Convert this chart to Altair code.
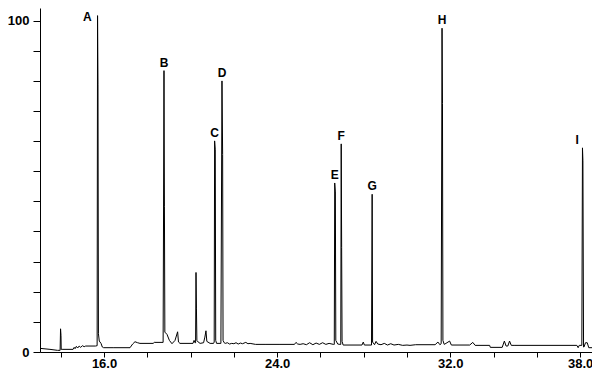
import altair as alt
import pandas as pd

# Chromatogram trace (retention time, relative abundance)
times = [
    13.04, 13.50, 13.85, 13.97, 13.99, 14.01, 14.02, 14.06, 14.57, 14.62,
    14.66, 14.72, 14.78, 14.85, 14.92, 15.00, 15.08, 15.15, 15.60, 15.68,
    15.70, 15.72, 15.74, 15.78, 15.86, 15.92, 15.98, 16.42, 17.20, 17.32,
    17.43, 17.55, 17.66, 18.27, 18.32, 18.73, 18.77, 18.79, 18.81, 18.91,
    19.02, 19.14, 19.28, 19.40, 19.44, 19.51, 20.11, 20.16, 20.20, 20.23,
    20.25, 20.27, 20.29, 20.35, 20.44, 20.60, 20.66, 20.71, 20.75, 20.90,
    21.06, 21.09, 21.11, 21.14, 21.16, 21.20, 21.40, 21.45, 21.48, 21.50,
    21.55, 21.60, 21.70, 21.80, 21.90, 22.00, 22.10, 22.20, 22.30, 22.40,
    22.55, 22.65, 22.75, 23.00, 23.44, 24.13, 24.80, 24.87, 24.95, 25.06,
    25.20, 25.35, 25.50, 25.65, 25.80, 25.95, 26.10, 26.25, 26.40, 26.60,
    26.64, 26.66, 26.69, 26.71, 26.80, 26.90, 26.94, 26.96, 26.98, 27.00,
    27.05, 27.92, 27.98, 28.03, 28.36, 28.39, 28.41, 28.50, 28.57, 28.65,
    28.80, 28.95, 29.10, 29.25, 29.40, 29.60, 29.80, 30.00, 30.14, 30.40,
    31.30, 31.43, 31.52, 31.58, 31.62, 31.64, 31.66, 31.72, 31.80, 31.97,
    32.05, 32.90, 33.04, 33.15, 33.82, 33.85, 34.40, 34.50, 34.58, 34.66,
    34.74, 34.82, 34.99, 37.85, 37.91, 37.96, 38.08, 38.11, 38.13, 38.16,
    38.18, 38.25, 38.33, 38.40, 38.55,
]
abundance = [
    1.1, 0.8, 0.5, 0.5, 7.0, 5.0, 0.8, 0.8, 0.8, 1.4,
    1.0, 1.7, 1.2, 1.8, 1.4, 1.9, 1.6, 1.8, 1.8, 1.9,
    101.5, 80.6, 5.5, 3.3, 2.6, 1.5, 1.3, 1.3, 1.3, 2.4,
    3.1, 2.8, 2.6, 2.6, 2.9, 2.9, 84.9, 43.8, 6.0, 5.3,
    3.5, 2.5, 3.5, 6.1, 3.0, 2.6, 2.6, 3.5, 2.8, 2.8,
    24.0, 13.0, 3.5, 3.0, 2.6, 2.8, 4.5, 6.4, 3.2, 2.6,
    2.6, 3.0, 63.7, 61.0, 3.5, 2.6, 2.6, 81.8, 59.6, 3.5,
    2.8, 2.6, 2.8, 2.4, 2.6, 2.5, 2.8, 2.4, 2.7, 2.5,
    2.9, 2.5, 2.6, 2.3, 2.3, 2.3, 2.3, 2.9, 2.4, 2.3,
    2.5, 2.2, 2.8, 2.2, 2.7, 2.3, 2.8, 2.3, 2.6, 2.3,
    2.3, 51.0, 48.3, 3.5, 2.4, 2.3, 2.3, 62.8, 31.5, 3.2,
    2.1, 2.1, 3.0, 2.1, 2.1, 47.6, 3.0, 2.2, 3.2, 2.4,
    2.2, 2.6, 2.1, 2.5, 2.1, 2.3, 2.0, 2.1, 2.0, 2.2,
    2.2, 3.0, 2.2, 2.5, 97.7, 75.0, 3.5, 2.3, 2.6, 3.3,
    2.1, 2.1, 2.9, 2.0, 2.0, 1.4, 1.4, 3.3, 1.8, 1.8,
    3.3, 2.0, 2.0, 2.0, 1.3, 2.0, 2.0, 61.6, 57.8, 1.5,
    1.5, 2.8, 2.8, 1.3, 1.3,
]

# Peak annotations
peak_labels = ["A", "B", "C", "D", "E", "F", "G", "H", "I"]
peak_times = [15.70, 18.77, 21.11, 21.45, 26.66, 26.96, 28.39, 31.62, 38.13]
peak_heights = [101.5, 84.9, 63.7, 81.8, 51.0, 62.8, 47.6, 97.7, 61.6]

# Axis ticks
x_tick_values = [14, 16, 18, 20, 22, 24, 26, 28, 30, 32, 34, 36, 38]
x_tick_labels = [16, 24, 32, 38]
y_tick_values = [0, 9.091, 18.182, 27.273, 36.364, 45.455, 54.545,
                 63.636, 72.727, 81.818, 90.909, 100]
y_tick_labels = [0, 100]

trace = pd.DataFrame({"time": times, "abundance": abundance})
peaks = pd.DataFrame({"label": peak_labels, "time": peak_times,
                      "abundance": peak_heights})

FONT = "Liberation Sans"

x_scale = alt.Scale(domain=[13.04, 38.55], nice=False, zero=False)
y_scale = alt.Scale(domain=[0, 103.8], nice=False, zero=False)

x_axis = alt.Axis(
    values=x_tick_values,
    labelExpr="indexof(" + str(x_tick_labels) + ", datum.value) >= 0 ? format(datum.value, '.1f') : ''",
    title=None, grid=False, ticks=True, tickSize=5, labelPadding=0,
    labelFont=FONT, labelFontWeight="bold", labelFontSize=13,
    labelColor="black", domainColor="black", tickColor="black",
    tickWidth=1, domainWidth=1,
    labelFlush=False, labelOverlap=False,
)
y_axis = alt.Axis(
    values=y_tick_values,
    labelExpr="indexof(" + str(y_tick_labels) + ", datum.value) >= 0 ? datum.label : ''",
    title=None, grid=False, ticks=True, tickSize=7, labelPadding=4,
    labelFont=FONT, labelFontWeight="bold", labelFontSize=13,
    labelColor="black", domainColor="black", tickColor="black",
    tickWidth=1, domainWidth=1,
    labelFlush=False, labelOverlap=False,
)

xe = alt.X("time:Q", scale=x_scale, axis=x_axis)
ye = alt.Y("abundance:Q", scale=y_scale, axis=y_axis)

line = alt.Chart(trace).mark_line(color="black", strokeWidth=1, clip=True).encode(
    x=xe, y=ye, order="time:Q",
)

text_style = dict(font=FONT, fontWeight="bold", fontSize=12, color="black")

above = alt.Chart(peaks).transform_filter(
    "datum.label != 'A' && datum.label != 'I'"
).mark_text(align="center", baseline="alphabetic", dy=-4, **text_style).encode(
    x=xe, y=ye, text="label:N"
)
left_a = alt.Chart(peaks).transform_filter("datum.label == 'A'").mark_text(
    align="right", baseline="middle", dx=-6, dy=1, **text_style
).encode(x=xe, y=ye, text="label:N")
left_i = alt.Chart(peaks).transform_filter("datum.label == 'I'").mark_text(
    align="right", baseline="middle", dx=-4, dy=-8, **text_style
).encode(x=xe, y=ye, text="label:N")

chart = alt.layer(line, above, left_a, left_i).properties(
    width=552, height=344,
    padding={"left": 32, "top": 0, "right": 0, "bottom": 18},
    autosize="none", background="white",
).configure_view(stroke=None)

chart.save("out.html", embed_options={"renderer": "svg", "actions": False})
